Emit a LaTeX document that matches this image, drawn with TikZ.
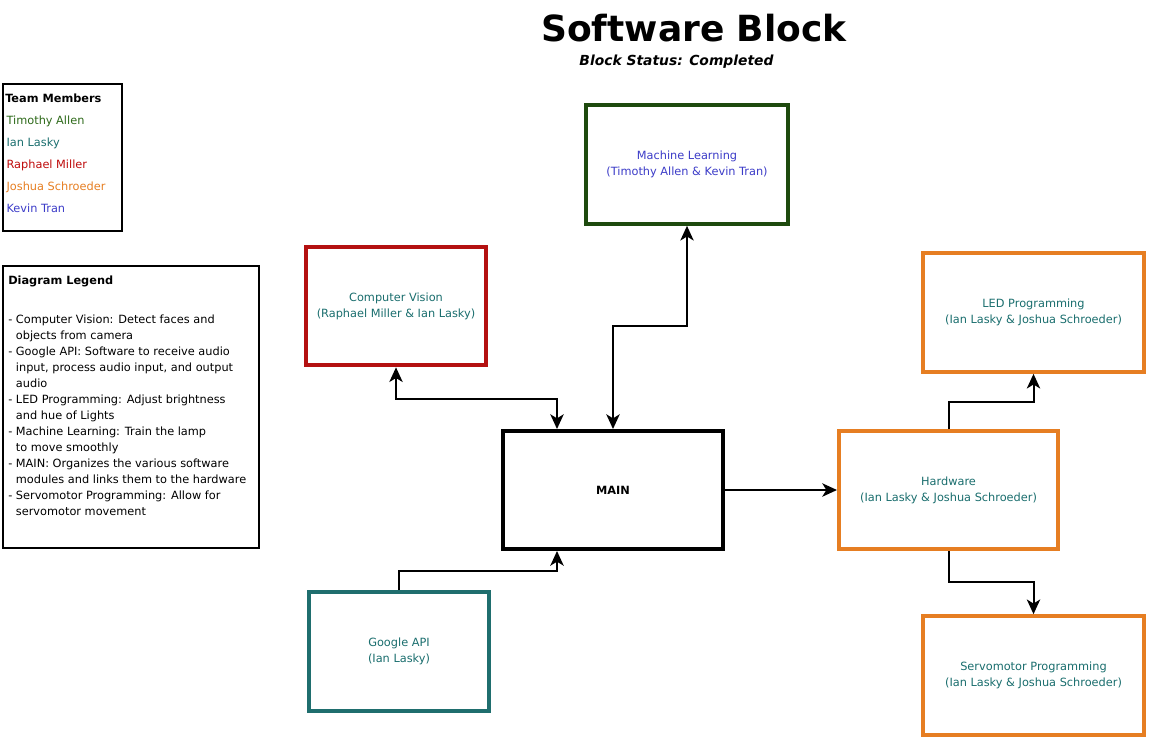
\documentclass[tikz,border=0pt]{standalone}
\usepackage{fontspec}
\setmainfont{DejaVu Sans}
\usetikzlibrary{arrows.meta}

\definecolor{cvred}{RGB}{180,17,17}
\definecolor{mlgreen}{RGB}{30,74,14}
\definecolor{hworange}{RGB}{230,126,34}
\definecolor{apiteal}{RGB}{31,110,110}
\definecolor{nameteal}{RGB}{26,110,110}
\definecolor{nameblue}{RGB}{60,60,200}
\definecolor{namegreen}{RGB}{45,105,25}
\definecolor{namered}{RGB}{190,10,10}

\tikzset{
  block/.style={draw, line width=3pt, fill=white, align=center, inner sep=0pt,
    minimum height=89pt, font=\fontsize{8.5}{12}\selectfont},
  panel/.style={draw, line width=1.5pt, inner sep=0pt},
  link/.style={line width=1.5pt},
  onehead/.style={link, -{Stealth[length=11pt,width=10pt,inset=3pt]}},
  twohead/.style={link, {Stealth[length=11pt,width=10pt,inset=3pt]}-{Stealth[length=11pt,width=10pt,inset=3pt]}},
  bodytext/.style={inner sep=0pt, align=left, font=\fontsize{8.5}{12}\selectfont},
}

\begin{document}
\begin{tikzpicture}[x=0.75pt,y=0.75pt,yscale=-1,xscale=1]
\useasboundingbox (0,0) rectangle (1149,740);

% Title
\node (title) at (694,28) {\fontsize{27}{32}\selectfont\bfseries Software Block};
\node (status) at (676.5,62) {\fontsize{10.4}{12}\selectfont\bfseries\itshape Block Status: Completed};

% Team members
\node [panel, minimum width=89.25pt, minimum height=110.25pt] (team) at (62.5,157.5) {};
\node [bodytext, anchor=north west, font=\fontsize{8.5}{16.5}\selectfont] (teamlist) at (5,94)
  {\textbf{Team Members}\\
   \hspace*{1pt}\textcolor{namegreen}{Timothy Allen}\\
   \hspace*{1pt}\textcolor{nameteal}{Ian Lasky}\\
   \hspace*{1pt}\textcolor{namered}{Raphael Miller}\\
   \hspace*{1pt}\textcolor{hworange}{Joshua Schroeder}\\
   \hspace*{1pt}\textcolor{nameblue}{Kevin Tran}};

% Legend
\node [panel, minimum width=192pt, minimum height=211.5pt] (legend) at (131,407) {};
\node [bodytext, anchor=north west] (legendtext) at (8,276)
  {\textbf{Diagram Legend}\\[17pt]
   - Computer Vision: Detect faces and\\
   \hphantom{- }objects from camera\\
   - Google API: Software to receive audio\\
   \hphantom{- }input, process audio input, and output\\
   \hphantom{- }audio\\
   - LED Programming: Adjust brightness\\
   \hphantom{- }and hue of Lights\\
   - Machine Learning: Train the lamp\\
   \hphantom{- }to move smoothly\\
   - MAIN: Organizes the various software\\
   \hphantom{- }modules and links them to the hardware\\
   - Servomotor Programming: Allow for\\
   \hphantom{- }servomotor movement};

% Blocks
\node [block, draw=cvred, text=nameteal, minimum width=135pt] (cv) at (396,306)
  {Computer Vision\\(Raphael Miller \& Ian Lasky)};
\node [block, draw=mlgreen, text=nameblue, minimum width=151.5pt] (ml) at (687,164.5)
  {Machine Learning\\(Timothy Allen \& Kevin Tran)};
\node [block, draw=hworange, text=nameteal, minimum width=165.75pt] (led) at (1033.5,312.5)
  {LED Programming\\(Ian Lasky \& Joshua Schroeder)};
\node [block, draw=black, minimum width=165pt, minimum height=88.5pt] (main) at (613,490)
  {\textbf{MAIN}};
\node [block, draw=hworange, text=nameteal, minimum width=164.25pt, minimum height=88.5pt] (hw) at (948.5,490)
  {Hardware\\(Ian Lasky \& Joshua Schroeder)};
\node [block, draw=apiteal, text=nameteal, minimum width=135pt] (gapi) at (399,651.5)
  {Google API\\(Ian Lasky)};
\node [block, draw=hworange, text=nameteal, minimum width=165.75pt] (servo) at (1033.5,675.5)
  {Servomotor Programming\\(Ian Lasky \& Joshua Schroeder)};

% Connectors
\draw [twohead] (cv.south) -- ++(0,32) -| ([xshift=-42pt]main.north);
\draw [twohead] (main.north) -- ++(0,-103) -| (ml.south);
\draw [onehead] (gapi.north) -- ++(0,-19) -| ([xshift=-42pt]main.south);
\draw [onehead] (main.east) -- (hw.west);
\draw [onehead] (hw.north) -- ++(0,-27) -| (led.south);
\draw [onehead] (hw.south) -- ++(0,31) -| (servo.north);

\end{tikzpicture}
\end{document}
